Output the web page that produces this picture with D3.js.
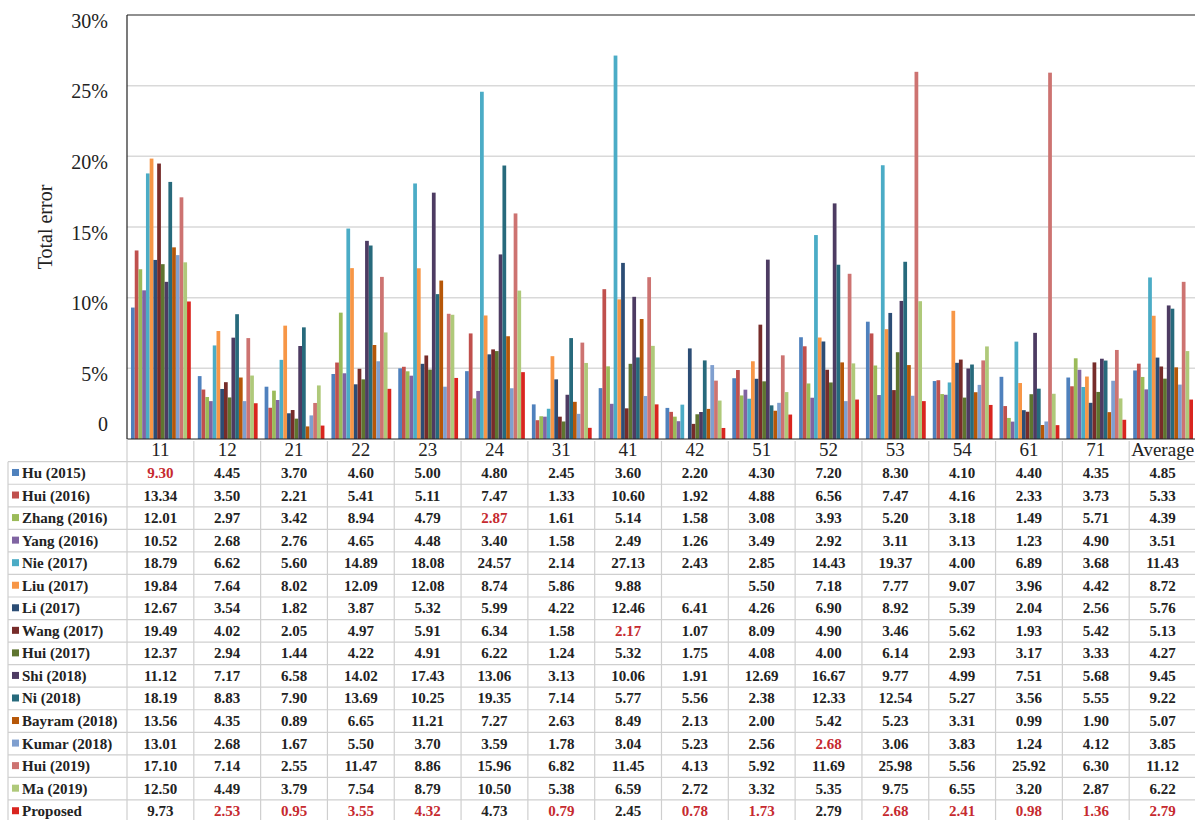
<!DOCTYPE html>
<html>
<head>
<meta charset="utf-8">
<script src="https://cdn.jsdelivr.net/npm/d3@7/dist/d3.min.js"></script>
<style>
  body { margin: 0; background: #fff; }
  svg text { font-family: "Liberation Serif", "Times New Roman", serif; }
</style>
</head>
<body>
<div id="chart"></div>
<script>
// categories along the x axis
var categories = ["11","12","21","22","23","24","31","41","42","51","52","53","54","61","71","Average"];

// series names (table row labels)
var seriesNames = ["Hu (2015)","Hui (2016)","Zhang (2016)","Yang (2016)","Nie (2017)","Liu (2017)","Li (2017)",
    "Wang (2017)","Hui (2017)","Shi (2018)","Ni (2018)","Bayram (2018)","Kumar (2018)","Hui (2019)","Ma (2019)","Proposed"];

// values, % total error
var hu2015     = [9.30,4.45,3.70,4.60,5.00,4.80,2.45,3.60,2.20,4.30,7.20,8.30,4.10,4.40,4.35,4.85];
var hui2016    = [13.34,3.50,2.21,5.41,5.11,7.47,1.33,10.60,1.92,4.88,6.56,7.47,4.16,2.33,3.73,5.33];
var zhang2016  = [12.01,2.97,3.42,8.94,4.79,2.87,1.61,5.14,1.58,3.08,3.93,5.20,3.18,1.49,5.71,4.39];
var yang2016   = [10.52,2.68,2.76,4.65,4.48,3.40,1.58,2.49,1.26,3.49,2.92,3.11,3.13,1.23,4.90,3.51];
var nie2017    = [18.79,6.62,5.60,14.89,18.08,24.57,2.14,27.13,2.43,2.85,14.43,19.37,4.00,6.89,3.68,11.43];
var liu2017    = [19.84,7.64,8.02,12.09,12.08,8.74,5.86,9.88,null,5.50,7.18,7.77,9.07,3.96,4.42,8.72];
var li2017     = [12.67,3.54,1.82,3.87,5.32,5.99,4.22,12.46,6.41,4.26,6.90,8.92,5.39,2.04,2.56,5.76];
var wang2017   = [19.49,4.02,2.05,4.97,5.91,6.34,1.58,2.17,1.07,8.09,4.90,3.46,5.62,1.93,5.42,5.13];
var hui2017    = [12.37,2.94,1.44,4.22,4.91,6.22,1.24,5.32,1.75,4.08,4.00,6.14,2.93,3.17,3.33,4.27];
var shi2018    = [11.12,7.17,6.58,14.02,17.43,13.06,3.13,10.06,1.91,12.69,16.67,9.77,4.99,7.51,5.68,9.45];
var ni2018     = [18.19,8.83,7.90,13.69,10.25,19.35,7.14,5.77,5.56,2.38,12.33,12.54,5.27,3.56,5.55,9.22];
var bayram2018 = [13.56,4.35,0.89,6.65,11.21,7.27,2.63,8.49,2.13,2.00,5.42,5.23,3.31,0.99,1.90,5.07];
var kumar2018  = [13.01,2.68,1.67,5.50,3.70,3.59,1.78,3.04,5.23,2.56,2.68,3.06,3.83,1.24,4.12,3.85];
var hui2019    = [17.10,7.14,2.55,11.47,8.86,15.96,6.82,11.45,4.13,5.92,11.69,25.98,5.56,25.92,6.30,11.12];
var ma2019     = [12.50,4.49,3.79,7.54,8.79,10.50,5.38,6.59,2.72,3.32,5.35,9.75,6.55,3.20,2.87,6.22];
var proposed   = [9.73,2.53,0.95,3.55,4.32,4.73,0.79,2.45,0.78,1.73,2.79,2.68,2.41,0.98,1.36,2.79];

// which row is printed in red in each column (as marked in the source table)
var redRow = [0,15,15,15,15,2,15,7,15,15,12,15,15,15,15,15];

var yTicks = [0,5,10,15,20,25,30];

var allValues = [hu2015,hui2016,zhang2016,yang2016,nie2017,liu2017,li2017,wang2017,hui2017,
    shi2018,ni2018,bayram2018,kumar2018,hui2019,ma2019,proposed];

var colors = ["#4f81bd","#c0504d","#9bbb59","#8064a2","#4bacc6","#f79646","#2c4d75","#772c2a",
    "#5f7530","#4d3b62","#276a7c","#b65708","#7f9fcf","#cd7371","#afc97a","#d9251f"];

var W = 1195, H = 820;
var plotLeft = 127, plotRight = 1196, plotTop = 15, plotBottom = 439;
var tableLeft = 8, rowTop = 461.7, rowH = 22.55;

var svg = d3.select("#chart").append("svg")
    .attr("width", W)
    .attr("height", H);

var xScale = d3.scaleBand().domain(categories).range([plotLeft, plotRight]);
var xSub = d3.scaleBand().domain(seriesNames).range([4, xScale.bandwidth() - 3]);
var yScale = d3.scaleLinear().domain([0, 30]).range([plotBottom, plotTop]);

// gridlines
svg.append("g")
    .selectAll("line")
    .data(yTicks.filter(function(d) { return d > 0 && d < 30; }))
    .enter().append("line")
    .attr("x1", plotLeft).attr("x2", W)
    .attr("y1", function(d) { return yScale(d); })
    .attr("y2", function(d) { return yScale(d); })
    .style("stroke", "#d9d9d9")
    .style("stroke-width", 1.5);

// bars
var groups = svg.selectAll(".series")
    .data(allValues)
    .enter().append("g")
    .attr("class", "series")
    .style("fill", function(d, i) { return colors[i]; });

groups.each(function(vals, si) {
    d3.select(this).selectAll("rect")
        .data(vals.map(function(v, ci) { return {v: v, c: categories[ci]}; }).filter(function(d) { return d.v !== null; }))
        .enter().append("rect")
        .attr("x", function(d) { return xScale(d.c) + xSub(seriesNames[si]); })
        .attr("width", xSub.bandwidth())
        .attr("y", function(d) { return yScale(d.v); })
        .attr("height", function(d) { return yScale(0) - yScale(d.v); });
});

// plot frame: top and left, bottom axis
svg.append("line").attr("x1", plotLeft).attr("x2", W).attr("y1", plotTop).attr("y2", plotTop)
    .style("stroke", "#222").style("stroke-width", 1.2);
svg.append("line").attr("x1", plotLeft).attr("x2", plotLeft).attr("y1", plotTop).attr("y2", plotBottom)
    .style("stroke", "#222").style("stroke-width", 1.2);
svg.append("line").attr("x1", plotLeft).attr("x2", W).attr("y1", plotBottom).attr("y2", plotBottom)
    .style("stroke", "#222").style("stroke-width", 1.2);

// y axis labels
var yAxis = svg.append("g")
    .attr("transform", "translate(" + (plotLeft - 16) + ",0)")
    .call(d3.axisLeft(yScale).tickValues(yTicks).tickSize(0)
        .tickFormat(function(d) { return d === 0 ? "0" : d + "%"; }));
yAxis.select(".domain").remove();
yAxis.selectAll("text")
    .style("font-size", "20px")
    .style("font-family", "'Liberation Serif', serif")
    .style("fill", "#222")
    .attr("dy", function(d) { return d === 0 ? "-0.45em" : "0.6em"; });

svg.append("text")
    .attr("transform", "translate(52," + 227 + ") rotate(-90)")
    .attr("text-anchor", "middle")
    .style("font-size", "20px")
    .style("fill", "#222")
    .text("Total error");

// table grid
var nRows = seriesNames.length;
var tableBottom = rowTop + nRows * rowH;
var grid = svg.append("g").style("stroke", "#cfcfcf").style("stroke-width", 1.2);

grid.selectAll(".hline")
    .data(d3.range(nRows + 1))
    .enter().append("line")
    .attr("x1", tableLeft).attr("x2", W)
    .attr("y1", function(i) { return rowTop + i * rowH; })
    .attr("y2", function(i) { return rowTop + i * rowH; });

grid.selectAll(".vline")
    .data(categories.slice(1))
    .enter().append("line")
    .attr("x1", function(d) { return xScale(d); })
    .attr("x2", function(d) { return xScale(d); })
    .attr("y1", plotBottom + 2).attr("y2", tableBottom);

grid.append("line").attr("x1", tableLeft).attr("x2", tableLeft).attr("y1", rowTop).attr("y2", tableBottom);
grid.append("line").attr("x1", plotLeft).attr("x2", plotLeft).attr("y1", plotBottom).attr("y2", tableBottom);

// category labels
svg.append("g").selectAll("text")
    .data(categories)
    .enter().append("text")
    .attr("x", function(d) { return xScale(d) + xScale.bandwidth() / 2; })
    .attr("y", plotBottom + 17)
    .attr("text-anchor", "middle")
    .style("font-size", "19px")
    .style("fill", "#222")
    .text(function(d) { return d; });

// row labels with legend keys
var rows = svg.selectAll(".row")
    .data(seriesNames)
    .enter().append("g")
    .attr("class", "row")
    .attr("transform", function(d, i) { return "translate(0," + (rowTop + i * rowH + rowH / 2) + ")"; });

rows.append("rect")
    .attr("x", 12).attr("y", -4).attr("width", 7).attr("height", 7)
    .style("fill", function(d, i) { return colors[i]; });

rows.append("text")
    .attr("x", 22).attr("y", 5)
    .style("font-size", "15px")
    .style("font-weight", "bold")
    .style("fill", "#222")
    .text(function(d) { return d; });

rows.each(function(name, si) {
    d3.select(this).selectAll(".val")
        .data(allValues[si].map(function(v, ci) { return {v: v, ci: ci}; }).filter(function(d) { return d.v !== null; }))
        .enter().append("text")
        .attr("class", "val")
        .attr("x", function(d) { return xScale(categories[d.ci]) + xScale.bandwidth() / 2; })
        .attr("y", 5)
        .attr("text-anchor", "middle")
        .style("font-size", "15px")
        .style("font-weight", "bold")
        .style("fill", function(d) { return redRow[d.ci] === si ? "#c62a2f" : "#222"; })
        .text(function(d) { return d.v.toFixed(2); });
});
</script>
</body>
</html>
